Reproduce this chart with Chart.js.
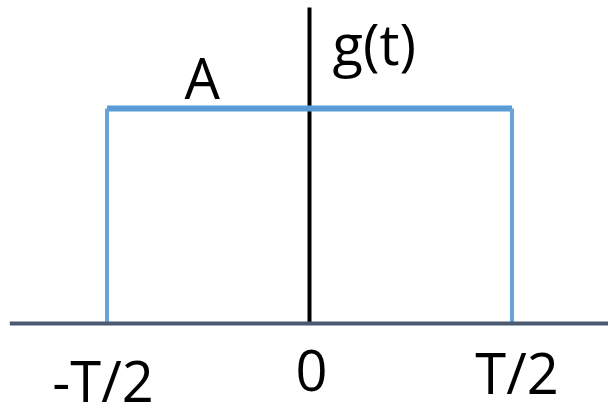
<!DOCTYPE html>
<html>
<head>
<meta charset="utf-8">
<script src="https://cdn.jsdelivr.net/npm/chart.js@4/dist/chart.umd.min.js"></script>
<style>
  html, body { margin: 0; padding: 0; background: #fff; }
  #wrap { width: 608px; height: 410px; position: relative; }
</style>
</head>
<body>
<div id="wrap"><canvas id="pulso"></canvas></div>
<script>
// dados do pulso retangular g(t)
const pulseT = [-1, -1, 1, 1];      // -T/2 ... T/2
const pulseG = [0, 1, 1, 0];        // amplitude A
const timeAxisT = [-1.48, 1.48];    // eixo horizontal
const gAxisG = [0, 1.47];           // eixo vertical g(t)
const tickLabels = ['-T/2', '0', 'T/2'];
const tickValues = [-1, 0, 1];
const amplitudeLabel = 'A';
const functionLabel = 'g(t)';

const pts = (xs, ys) => xs.map((x, i) => ({ x: x, y: ys[i] }));

// textos desenhados nas coordenadas das escalas
const labelsPlugin = {
    id: 'rotulos',
    afterDatasetsDraw(chart) {
        const ctx = chart.ctx;
        const sx = chart.scales.x, sy = chart.scales.y;
        ctx.save();
        ctx.fillStyle = '#000';
        ctx.font = '56px "Open Sans"';
        ctx.textAlign = 'center';
        ctx.textBaseline = 'alphabetic';
        const dx = [-4, 2, 5];      // ajuste fino em px
        const base = [402, 391, 394];
        tickValues.forEach((v, i) => {
            ctx.fillText(tickLabels[i], sx.getPixelForValue(v) + dx[i], base[i]);
        });
        // amplitude A, sobre a linha do topo
        ctx.fillText(amplitudeLabel, sx.getPixelForValue(-0.53), sy.getPixelForValue(1) - 10);
        // g(t) à direita do eixo
        ctx.textAlign = 'left';
        ctx.fillText(functionLabel, sx.getPixelForValue(0) + 23, 65);
        ctx.restore();
    }
};

const ctx = document.getElementById('pulso').getContext('2d');

new Chart(ctx, {
    type: 'scatter',
    data: {
        datasets: [{
            // eixo horizontal (t)
            data: pts(timeAxisT, [0, 0]),
            showLine: true,
            borderColor: '#4b5a70',
            borderWidth: 4,
            pointRadius: 0,
            clip: false
        }, {
            // laterais do pulso
            data: pts(pulseT.slice(0, 2), pulseG.slice(0, 2)),
            showLine: true,
            borderColor: '#6aa3d8',
            borderWidth: 4,
            pointRadius: 0,
            clip: false
        }, {
            data: pts(pulseT.slice(2), pulseG.slice(2)),
            showLine: true,
            borderColor: '#6aa3d8',
            borderWidth: 4,
            pointRadius: 0,
            clip: false
        }, {
            // topo do pulso
            data: pts(pulseT.slice(1, 3), pulseG.slice(1, 3)),
            showLine: true,
            borderColor: '#5b9bd5',
            borderWidth: 6,
            pointRadius: 0,
            clip: false
        }, {
            // eixo vertical g(t)
            data: pts([0, 0], gAxisG),
            showLine: true,
            borderColor: '#000',
            borderWidth: 4,
            pointRadius: 0,
            clip: false
        }]
    },
    options: {
        responsive: true,
        maintainAspectRatio: false,
        animation: false,
        events: [],
        layout: { padding: 0 },
        plugins: {
            legend: { display: false },
            tooltip: { enabled: false }
        },
        scales: {
            x: { type: 'linear', display: false, min: -1.5284, max: 1.4741 },
            y: { type: 'linear', display: false, min: -0.4023, max: 1.5047 }
        }
    },
    plugins: [labelsPlugin]
});
</script>
</body>
</html>
